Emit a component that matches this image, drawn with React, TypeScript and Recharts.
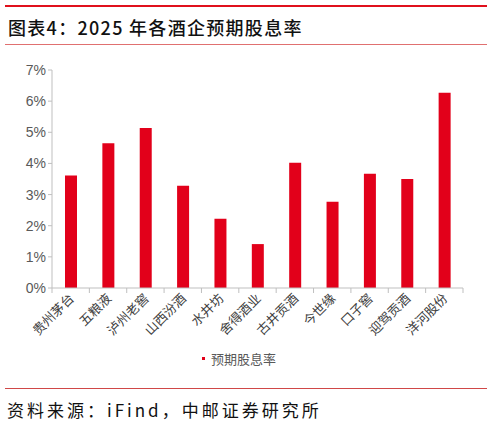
import { BarChart, Bar, XAxis, YAxis } from 'recharts'

const companies = ['贵州茅台', '五粮液', '泸州老窖', '山西汾酒', '水井坊', '舍得酒业', '古井贡酒', '今世缘', '口子窖', '迎驾贡酒', '洋河股份']
const yieldPct = [3.61, 4.65, 5.14, 3.28, 2.22, 1.41, 4.02, 2.77, 3.67, 3.5, 6.27]
const yTicks = [0, 1, 2, 3, 4, 5, 6, 7]

const data = companies.map((name, i) => ({ name, value: yieldPct[i] }))

const RED = '#e2001a'
const AXIS = '#bfbfbf'
const CJK = '"Noto Sans CJK SC", "Noto Sans", sans-serif'

function CategoryTick(props: any) {
  const { x, y, payload, index } = props
  const half = payload.offset ?? 0
  const axisY = y - 7
  return (
    <g>
      <line x1={x - half} x2={x - half} y1={axisY} y2={axisY + 5} stroke={AXIS} />
      {index === companies.length - 1 && (
        <line x1={x + half} x2={x + half} y1={axisY} y2={axisY + 5} stroke={AXIS} />
      )}
      <text
        x={x}
        y={y}
        dy={6}
        textAnchor="end"
        fontSize={13}
        fontFamily={CJK}
        fill="#404040"
        transform={`rotate(-45 ${x} ${y})`}
      >
        {payload.value}
      </text>
    </g>
  )
}

export default function App() {
  return (
    <div style={{ position: 'absolute', top: 0, left: 0, width: 493, height: 424, background: '#fff', fontFamily: CJK }}>
      <div style={{ position: 'absolute', left: 5, top: 5, width: 482, height: 2, background: '#e0101c' }} />
      <div style={{ position: 'absolute', left: 8, top: 14, fontSize: 18, fontWeight: 500, letterSpacing: 1.3, color: '#111', whiteSpace: 'nowrap' }}>
        图表4：2025 年各酒企预期股息率
      </div>
      <div style={{ position: 'absolute', left: 5, top: 44, width: 482, height: 1, background: '#e07070' }} />

      <div style={{ position: 'absolute', left: 0, top: 0 }}>
        <BarChart width={493} height={380} data={data} margin={{ top: 70, right: 30, left: 7, bottom: 32 }} barCategoryGap={0}>
          <YAxis
            width={45}
            domain={[0, 7]}
            ticks={yTicks}
            tickFormatter={(v) => `${v}%`}
            axisLine={{ stroke: AXIS }}
            tickLine={{ stroke: AXIS }}
            tickSize={4}
            tickMargin={2}
            tick={{ fontSize: 14, fill: '#595959', fontFamily: 'Liberation Sans, Arial, sans-serif' }}
            interval={0}
          />
          <XAxis
            dataKey="name"
            height={60}
            interval={0}
            axisLine={{ stroke: AXIS }}
            tickLine={false}
            tickSize={5}
            tickMargin={2}
            tick={<CategoryTick />}
          />
          <Bar dataKey="value" fill={RED} barSize={12} isAnimationActive={false} />
        </BarChart>
      </div>

      <div style={{ position: 'absolute', left: 202, top: 349, display: 'flex', alignItems: 'center', fontSize: 13, color: '#595959' }}>
        <span style={{ display: 'inline-block', width: 3, height: 3, background: RED, marginRight: 6 }} />
        预期股息率
      </div>

      <div style={{ position: 'absolute', left: 5, top: 388, width: 482, height: 1, background: '#d04848' }} />
      <div style={{ position: 'absolute', left: 7, top: 397, fontSize: 17, letterSpacing: 3, color: '#111', whiteSpace: 'nowrap' }}>
        资料来源：iFind，中邮证券研究所
      </div>
    </div>
  )
}
